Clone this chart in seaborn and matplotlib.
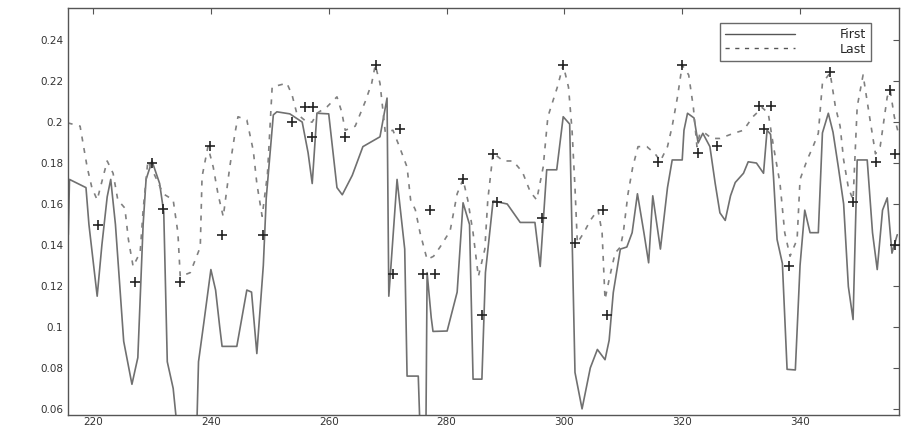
import numpy as np
import pandas as pd
import matplotlib
matplotlib.use("Agg")
import matplotlib.pyplot as plt
import seaborn as sns
from matplotlib.ticker import FuncFormatter

# "First" curve (solid)
first_x = [215.8, 216.0, 218.8, 219.3, 220.7, 221.5, 222.4, 223.0, 223.8, 225.2,
           226.6, 227.6, 228.5, 229.0, 230.0, 231.3, 232.0, 232.6, 233.6, 234.3,
           237.6, 237.9, 238.8, 240.0, 240.8, 241.5, 241.9, 244.4, 246.1, 246.9,
           247.8, 248.9, 249.4, 250.6, 251.2, 253.4, 255.5, 256.5, 257.2, 258.0,
           260.0, 260.6, 261.4, 262.3, 264.0, 265.8, 268.7, 269.9, 270.2, 271.6,
           272.9, 273.3, 275.2, 275.5, 276.5, 276.7, 277.4, 277.7, 280.1, 281.8,
           282.8, 283.9, 284.5, 286.0, 286.6, 287.9, 290.3, 292.5, 295.0, 295.9,
           297.0, 298.7, 299.8, 300.9, 301.8, 303.0, 304.4, 305.6, 306.9, 307.6,
           308.3, 309.5, 310.6, 311.5, 312.4, 313.5, 314.3, 315.0, 315.9, 316.3,
           317.5, 318.3, 320.0, 320.3, 320.9, 322.0, 322.7, 323.5, 324.7, 325.6,
           326.4, 327.3, 328.2, 329.0, 330.4, 331.2, 332.6, 333.8, 334.4, 335.0,
           335.5, 336.1, 337.0, 337.8, 339.2, 340.0, 340.8, 341.7, 343.1, 343.8,
           344.8, 345.6, 346.5, 347.4, 348.2, 349.0, 349.7, 351.4, 352.3, 353.1,
           354.0, 354.8, 355.6, 356.5]
first_y = [0.145, 0.172, 0.168, 0.150, 0.115, 0.140, 0.1635, 0.172, 0.150, 0.093,
           0.072, 0.085, 0.150, 0.172, 0.181, 0.170, 0.156, 0.083, 0.070, 0.050,
           0.050, 0.083, 0.102, 0.128, 0.118, 0.100, 0.0905, 0.0905, 0.118, 0.117,
           0.087, 0.130, 0.163, 0.2035, 0.205, 0.204, 0.200, 0.185, 0.170, 0.2043,
           0.204, 0.1885, 0.168, 0.1645, 0.174, 0.188, 0.1928, 0.2117, 0.115, 0.172,
           0.138, 0.076, 0.076, 0.050, 0.050, 0.1265, 0.1045, 0.0978, 0.098, 0.117,
           0.1606, 0.150, 0.0745, 0.0745, 0.1265, 0.1615, 0.160, 0.151, 0.151, 0.1295,
           0.1767, 0.1767, 0.2026, 0.199, 0.0778, 0.060, 0.080, 0.089, 0.084, 0.0935,
           0.1168, 0.138, 0.139, 0.146, 0.165, 0.146, 0.1313, 0.164, 0.146, 0.138,
           0.168, 0.1815, 0.1815, 0.196, 0.2043, 0.202, 0.1898, 0.1945, 0.188, 0.170,
           0.1557, 0.152, 0.164, 0.1705, 0.175, 0.1806, 0.180, 0.175, 0.196, 0.194,
           0.173, 0.1427, 0.131, 0.0793, 0.079, 0.130, 0.157, 0.146, 0.146, 0.1947,
           0.2043, 0.195, 0.178, 0.160, 0.1197, 0.1036, 0.1815, 0.1815, 0.146, 0.128,
           0.157, 0.163, 0.136, 0.145]

# "Last" curve (dashed)
last_x = [215.7, 217.8, 219.0, 219.8, 220.7, 222.4, 223.4, 224.2, 225.4, 226.0,
          226.8, 228.0, 228.5, 229.3, 230.8, 231.9, 233.6, 234.4, 234.8, 236.5,
          238.2, 238.5, 239.5, 240.4, 241.2, 242.1, 243.2, 244.1, 244.6, 246.1,
          247.2, 247.8, 248.7, 249.6, 250.4, 252.9, 253.8, 254.6, 256.3, 257.2,
          258.0, 259.7, 261.4, 262.2, 262.8, 264.5, 266.2, 267.3, 267.9, 268.7,
          269.6, 270.9, 272.0, 273.3, 273.9, 274.7, 275.5, 276.7, 277.8, 278.9,
          280.6, 281.8, 282.8, 283.6, 284.5, 285.4, 286.5, 287.0, 287.9, 289.6,
          291.3, 292.9, 294.2, 295.3, 296.4, 297.2, 298.8, 299.8, 300.7, 301.3,
          301.8, 302.2, 303.3, 304.4, 305.7, 306.4, 306.9, 307.7, 308.6, 309.5,
          310.0, 310.8, 311.6, 312.5, 314.0, 315.4, 316.3, 317.5, 318.3, 319.2,
          320.0, 321.1, 321.9, 322.5, 323.0, 323.9, 325.0, 326.4, 328.7, 330.4,
          332.0, 333.6, 334.6, 335.5, 336.6, 337.4, 338.3, 339.5, 340.0, 341.2,
          342.2, 343.1, 343.8, 345.1, 346.0, 346.8, 347.4, 348.2, 349.0, 349.7,
          350.7, 351.8, 352.8, 353.6, 354.8, 355.3, 356.0, 356.7]
last_y = [0.1996, 0.198, 0.178, 0.168, 0.162, 0.181, 0.175, 0.162, 0.158, 0.1427,
          0.1295, 0.1365, 0.157, 0.181, 0.172, 0.165, 0.162, 0.146, 0.1246, 0.1265,
          0.139, 0.1733, 0.188, 0.178, 0.165, 0.1538, 0.178, 0.1947, 0.2026, 0.201,
          0.186, 0.170, 0.154, 0.1745, 0.2171, 0.219, 0.213, 0.204, 0.200, 0.200,
          0.2043, 0.2074, 0.2123, 0.205, 0.196, 0.198, 0.210, 0.219, 0.2278, 0.219,
          0.195, 0.196, 0.188, 0.178, 0.162, 0.1572, 0.146, 0.1329, 0.1345, 0.139,
          0.1468, 0.165, 0.172, 0.162, 0.146, 0.1246, 0.138, 0.162, 0.185, 0.181,
          0.181, 0.1755, 0.166, 0.162, 0.178, 0.2026, 0.217, 0.2278, 0.217, 0.196,
          0.168, 0.141, 0.146, 0.152, 0.1572, 0.146, 0.1134, 0.1246, 0.136, 0.139,
          0.146, 0.165, 0.178, 0.188, 0.188, 0.1845, 0.181, 0.188, 0.198, 0.2123,
          0.2278, 0.223, 0.207, 0.188, 0.1945, 0.1945, 0.192, 0.192, 0.1945, 0.196,
          0.2026, 0.207, 0.2043, 0.188, 0.170, 0.146, 0.1345, 0.1427, 0.172, 0.1815,
          0.188, 0.1945, 0.219, 0.224, 0.2075, 0.198, 0.1815, 0.168, 0.162, 0.2075,
          0.223, 0.2026, 0.1845, 0.188, 0.2123, 0.2155, 0.2026, 0.1945]

# '+' marks
mark_x = [220.8, 227.1, 230.0, 231.9, 234.8, 239.9, 241.9, 248.9, 253.8, 256.0,
          257.4, 257.2, 262.8, 268.0, 272.1, 270.9, 277.2, 276.0, 278.1, 282.8,
          287.9, 288.6, 286.0, 296.2, 299.8, 301.8, 306.6, 307.3, 315.9, 320.0,
          322.7, 325.9, 333.1, 335.1, 333.8, 338.2, 345.1, 349.0, 352.9, 355.3,
          356.2, 356.2]
mark_y = [0.1497, 0.1217, 0.180, 0.1577, 0.1217, 0.1884, 0.145, 0.145, 0.200, 0.2074,
          0.2074, 0.1928, 0.1928, 0.2278, 0.1966, 0.1256, 0.1572, 0.1256, 0.1256, 0.1723,
          0.1845, 0.1612, 0.1060, 0.1533, 0.2278, 0.1412, 0.1572, 0.1060, 0.1806, 0.2278,
          0.185, 0.1884, 0.2079, 0.2079, 0.1966, 0.1295, 0.2244, 0.1612, 0.1806, 0.2157,
          0.1845, 0.140]

sns.set_style("white")
plt.rcParams['font.family'] = ['DejaVu Sans']

fig = plt.figure(figsize=(9.02, 4.29), dpi=100)
ax = fig.add_axes([0.0754, 0.0326, 0.9213, 0.9484])

first = pd.DataFrame({"x": first_x, "y": first_y})
last = pd.DataFrame({"x": last_x, "y": last_y})
marks = pd.DataFrame({"x": mark_x, "y": mark_y})

sns.lineplot(data=first, x="x", y="y", ax=ax, estimator=None, sort=False,
             color="#707070", lw=1.2, label="First")
sns.lineplot(data=last, x="x", y="y", ax=ax, estimator=None, sort=False,
             color="#808080", lw=1.2, label="Last")
ax.lines[-1].set_linestyle((0, (3, 4)))
sns.scatterplot(data=marks, x="x", y="y", ax=ax, marker="+", color="#222222",
                s=45, linewidth=1.2, zorder=5)

ax.set_xlim(215.75, 356.8)
ax.set_ylim(0.057, 0.2556)
ax.set_xticks([220, 240, 260, 280, 300, 320, 340])
ax.set_yticks([0.06, 0.08, 0.10, 0.12, 0.14, 0.16, 0.18, 0.20, 0.22, 0.24])
ax.yaxis.set_major_formatter(FuncFormatter(lambda v, p: f"{v:g}"))
ax.set_xlabel("")
ax.set_ylabel("")
ax.tick_params(direction="in", length=4, width=0.8, color="#555555",
               labelsize=7.5, labelcolor="#333333", top=True, right=True)
ax.tick_params(axis="x", pad=1.5)
for sp in ax.spines.values():
    sp.set_color("#555555")
    sp.set_linewidth(1.0)

leg = ax.legend(loc="upper right", bbox_to_anchor=(0.9735, 0.978), fontsize=9,
                handlelength=5.6, handletextpad=3.6, frameon=True, fancybox=False,
                borderpad=0.4, labelspacing=0.1)
leg.get_frame().set_edgecolor("#444444")
leg.get_frame().set_linewidth(1.0)
for h in leg.get_lines():
    h.set_color("#555555")
    h.set_linewidth(1.0)

fig.savefig("out.png", dpi=100)
